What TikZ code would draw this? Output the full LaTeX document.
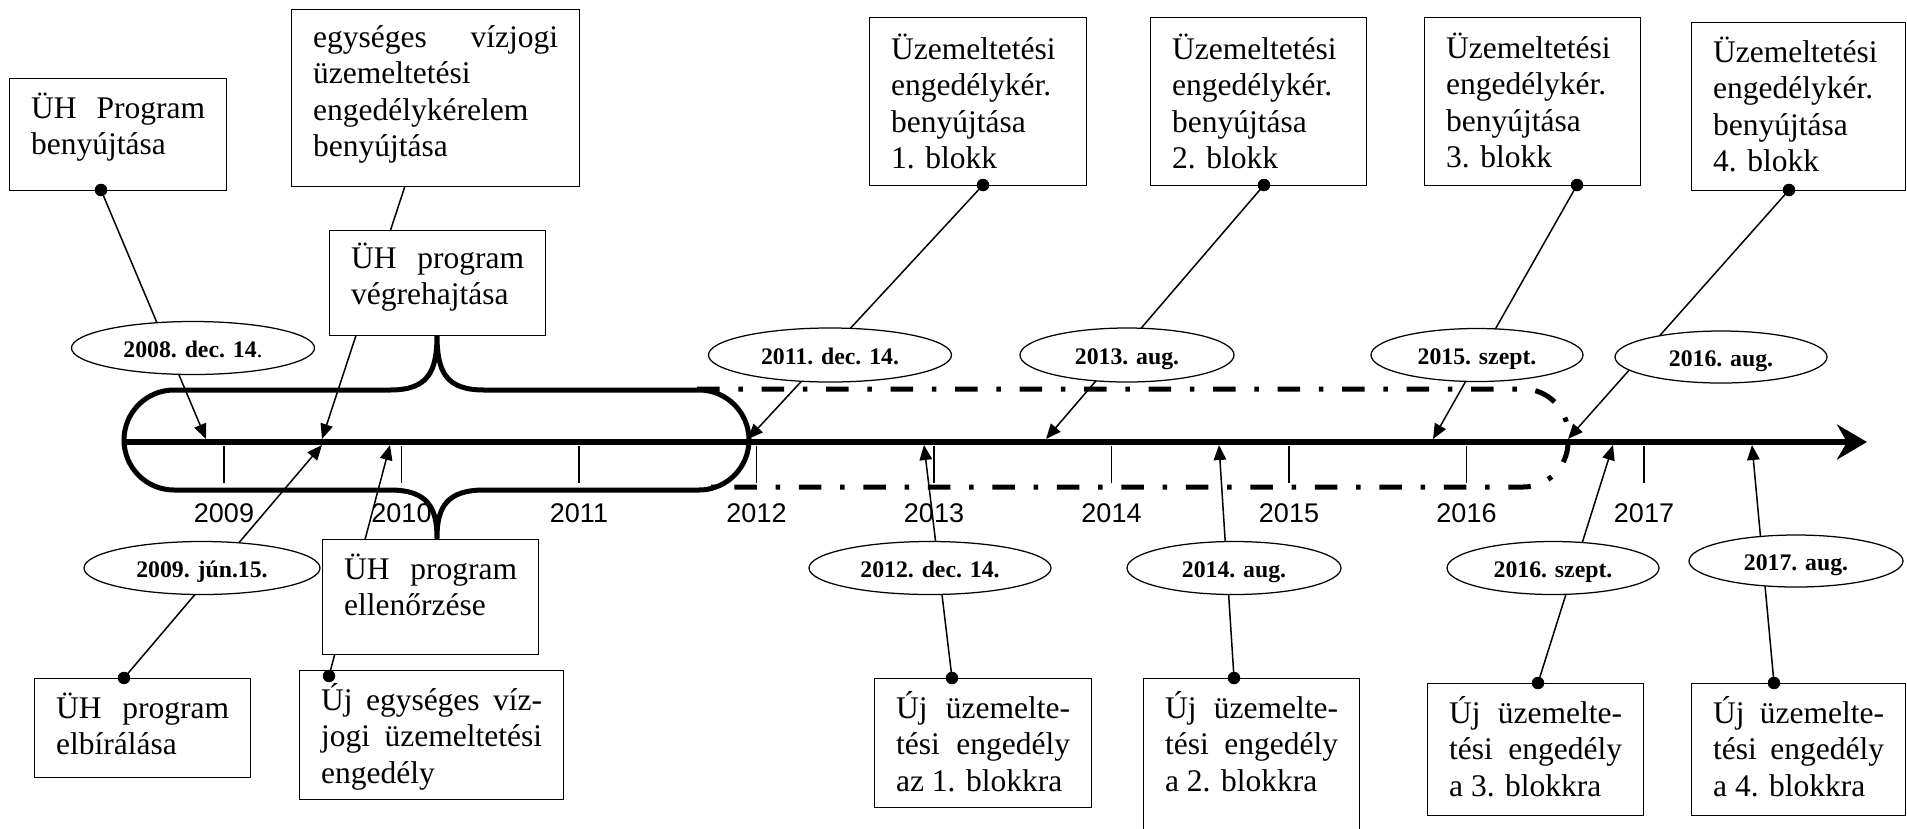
\documentclass[tikz,border=0pt]{standalone}
\usepackage{fontspec}
\setmainfont{Liberation Serif}
\setsansfont{Liberation Sans}
\usetikzlibrary{arrows.meta,shapes.geometric}
\tikzset{
  txtbox/.style ={draw=black,fill=white,line width=0.5pt,inner xsep=8.6pt,inner ysep=0pt,
                  anchor=north west,font=\fontsize{12.6}{14.5}\selectfont},
  datum/.style  ={ellipse,draw=black,fill=white,line width=0.5pt,inner sep=0pt,
                  text height=8.6pt,text depth=1.4pt,
                  font=\fontsize{9.5}{11}\selectfont\bfseries},
  yr/.style     ={font=\sffamily\fontsize{10.8}{12}\selectfont,inner sep=0pt},
  con/.style    ={-{Triangle[length=6pt,width=5pt]},line width=0.6pt},
  tl/.style     ={-{Stealth[length=12pt,width=14pt,inset=4pt]},line width=2.4pt},
  span/.style   ={line width=2pt,line join=round},
  planned/.style={line width=2pt,dash pattern=on 9pt off 7.5pt on 1.8pt off 7.5pt,
                  rounded corners=18pt},
  tickln/.style ={line width=0.6pt},
}
% fixed-size text area, first baseline pushed down by the strut
\newcommand{\bxt}[4][16pt]{\parbox[c][#3][t]{#2}{\tolerance=10000\hyphenpenalty=10000
  \rule{0pt}{#1}#4}}

\begin{document}
\begin{tikzpicture}[x=0.4pt,y=-0.4pt]
\useasboundingbox (0,0) rectangle (1907,828);
\clip (0,0) rectangle (1907,828);

% enclosure of the UH programme (two braces)
\draw[span] (174,390) -- (390,390) .. controls (428,390) and (437,372) .. (437,335)
  .. controls (437,372) and (446,390) .. (484,390) -- (699,390)
  .. controls (726.6,390) and (749,412.4) .. (749,440)
  .. controls (749,467.6) and (726.6,490) .. (699,490) -- (484,490)
  .. controls (446,490) and (437,508) .. (437,538)
  .. controls (437,508) and (428,490) .. (390,490) -- (174,490)
  .. controls (146.4,490) and (124,467.6) .. (124,440)
  .. controls (124,412.4) and (146.4,390) .. (174,390);

% licensing period, dash-dot
\draw[planned] (697,389) -- (1568,389) -- (1568,487) -- (709,487);

% time axis with ticks and years
\coordinate (ax0) at (124,442);
\coordinate (ax1) at (1867,442);
\draw[tl] (ax0) -- (ax1);
\foreach \yr [count=\i from 0] in {2009,...,2017}{
  \draw[tickln] (224+177.5*\i,446) -- ++(0,37);
  \node[yr] (y\yr) at (224+177.5*\i,513) {\yr};
}

% points on the axis
\coordinate (t1) at (206,439);
\coordinate (t2) at (322,439);
\coordinate (t3) at (322,445);
\coordinate (t4) at (390,445);
\coordinate (t5) at (748,439);
\coordinate (t6) at (1046,439);
\coordinate (t7) at (924,445);
\coordinate (t8) at (1219,445);
\coordinate (t9) at (1433,439);
\coordinate (t10) at (1568,439);
\coordinate (t11) at (1613,445);
\coordinate (t12) at (1752,445);

% connector start points
\coordinate (d1) at (101,190);
\coordinate (p2) at (405,186);
\coordinate (d4) at (124,678);
\coordinate (d6) at (329,676);
\coordinate (d7) at (983,185);
\coordinate (d8) at (1264,185);
\coordinate (d11) at (952,678);
\coordinate (d12) at (1234,678);
\coordinate (d9) at (1577,185);
\coordinate (d10) at (1789,190);
\coordinate (d13) at (1538,683);
\coordinate (d14) at (1774,683);

\foreach \a/\b in {d1/t1,p2/t2,d4/t3,d6/t4,d7/t5,d8/t6,d11/t7,d12/t8,d9/t9,d10/t10,d13/t11,d14/t12}
  \draw[con] (\a) -- (\b);

% dates
\node[datum,minimum width=97.2pt,minimum height=21.2pt] (e1) at (193,348) {2008. dec. 14\textmd{.}};
\node[datum,minimum width=94.4pt,minimum height=21.2pt] (e2) at (202,568) {2009. jún.15.};
\node[datum,minimum width=97.2pt,minimum height=21.6pt] (e3) at (830,355) {2011. dec. 14.};
\node[datum,minimum width=85.6pt,minimum height=21.6pt] (e4) at (1127,355) {2013. aug.};
\node[datum,minimum width=84.8pt,minimum height=21.2pt] (e5) at (1477,355) {2015. szept.};
\node[datum,minimum width=84.8pt,minimum height=20.8pt] (e6) at (1721,357) {2016. aug.};
\node[datum,minimum width=96.8pt,minimum height=21.2pt] (e7) at (930,568) {2012. dec. 14.};
\node[datum,minimum width=85.6pt,minimum height=21.2pt] (e8) at (1234,568) {2014. aug.};
\node[datum,minimum width=84.8pt,minimum height=21.2pt] (e9) at (1553,568) {2016. szept.};
\node[datum,minimum width=85.6pt,minimum height=20.8pt] (e10) at (1796,561) {2017. aug.};

% upper boxes
\node[txtbox] (b1) at (9,78) {\bxt{69.6pt}{44.8pt}{ÜH Program\linebreak benyújtása}};
\node[txtbox] (b2) at (291,9) {\bxt[15.2pt]{98pt}{70.8pt}{egységes vízjogi\linebreak
  üzemeltetési\\ engedélykérelem\\ benyújtása}};
\node[txtbox] (b3) at (329,230) {\bxt[15.2pt]{69.2pt}{42pt}{ÜH program\linebreak végrehajtása}};
\node[txtbox] (b7) at (869,17) {\bxt[16.8pt]{69.6pt}{67.2pt}{Üzemeltetési\\ engedélykér.\\ benyújtása\\ 1. blokk}};
\node[txtbox] (b8) at (1150,17) {\bxt[16.8pt]{69.2pt}{67.2pt}{Üzemeltetési\\ engedélykér.\\ benyújtása\\ 2. blokk}};
\node[txtbox] (b9) at (1424,17) {\bxt[16.4pt]{69.2pt}{67.2pt}{Üzemeltetési\\ engedélykér.\\ benyújtása\\ 3. blokk}};
\node[txtbox] (b10) at (1691,22) {\bxt{68.4pt}{67.2pt}{Üzemeltetési\\ engedélykér.\\ benyújtása\\ 4. blokk}};

% lower boxes
\node[txtbox] (b4) at (34,678) {\bxt{69.2pt}{39.6pt}{ÜH program\linebreak elbírálása}};
\node[txtbox] (b5) at (322,539) {\bxt{69.2pt}{46pt}{ÜH program\linebreak ellenőrzése}};
\node[txtbox] (b6) at (299,670) {\bxt{88.4pt}{51.6pt}{Új egységes víz-\linebreak
  jogi üzemeltetési\linebreak engedély}};
\node[txtbox] (b11) at (874,678) {\bxt{69.6pt}{51.6pt}{Új üzemelte-\linebreak tési engedély\linebreak az 1. blokkra}};
\node[txtbox] (b12) at (1143,678) {\bxt{69.2pt}{72pt}{Új üzemelte-\linebreak tési engedély\linebreak a 2. blokkra}};
\node[txtbox] (b13) at (1427,683) {\bxt{69.2pt}{52.8pt}{Új üzemelte-\linebreak tési engedély\linebreak a 3. blokkra}};
\node[txtbox] (b14) at (1691,683) {\bxt{68.4pt}{52.8pt}{Új üzemelte-\linebreak tési engedély\linebreak a 4. blokkra}};

% dots where the connectors leave the boxes
\foreach \d in {d1,d4,d6,d7,d8,d9,d10,d11,d12,d13,d14}
  \fill (\d) circle[radius=2.5pt];
\end{tikzpicture}
\end{document}
